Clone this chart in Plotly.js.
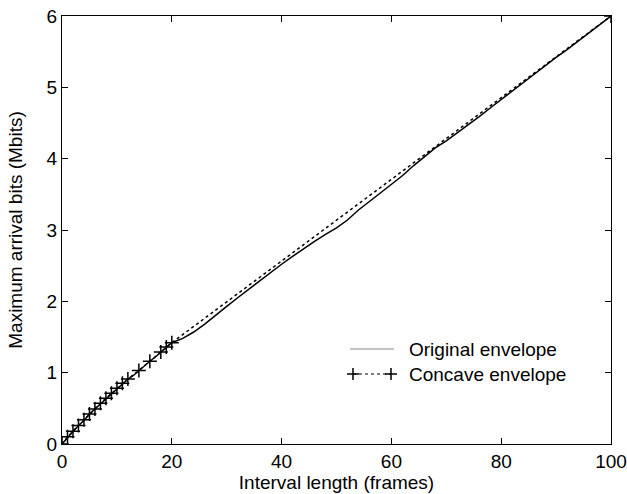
<!DOCTYPE html>
<html>
<head>
<meta charset="utf-8">
<script src="https://cdn.plot.ly/plotly-3.0.1.min.js"></script>
<style>html,body{margin:0;padding:0;background:#fff;}#chart{width:627px;height:494px;}</style>
</head>
<body>
<div id="chart"></div>
<script>
// Original envelope (interval length in frames, max arrival bits in Mbits)
const origX = [0,1,2,3,4,5,6,7,8,9,10,11,12,13,14,15,16,17,18,19,20,
  22,24,26,28,30,32,34,36,38,40,42,44,46,48,50,52,54,56,58,60,62,64,66,68,70,72,74,76,78,80,82,84,86,88,90,92,94,96,98,100];
const origY = [0,0.09,0.18,0.26,0.33,0.42,0.49,0.56,0.64,0.71,0.78,0.84,0.91,0.96,1.03,1.09,1.16,1.22,1.29,1.36,1.42,
  1.48,1.57,1.68,1.81,1.93,2.05,2.17,2.29,2.41,2.52,2.63,2.74,2.84,2.94,3.03,3.14,3.28,3.40,3.52,3.64,3.76,3.90,4.02,4.15,4.25,4.36,4.47,4.59,4.71,4.83,4.95,5.07,5.18,5.30,5.42,5.53,5.65,5.77,5.88,6.0];

// Concave envelope
const concX = [0,1,2,3,4,5,6,7,8,9,10,11,12,14,16,18,19,20,100];
const concY = [0,0.10,0.18,0.26,0.34,0.42,0.49,0.57,0.64,0.71,0.78,0.85,0.91,1.03,1.16,1.29,1.36,1.42,6.0];

const xTicks = [0,20,40,60,80,100];
const yTicks = [0,1,2,3,4,5,6];
const seriesNames = ['Original envelope', 'Concave envelope'];

const traces = [
  {x: origX, y: origY, mode: 'lines', name: seriesNames[0], showlegend: false,
   line: {color: '#000', width: 1.5}},
  {x: concX, y: concY, mode: 'lines+markers', name: seriesNames[1], showlegend: false,
   line: {color: '#000', width: 1.5, dash: 'dot'},
   marker: {symbol: 'cross-thin', size: 10, color: '#000', line: {color: '#000', width: 1.5}}}
];

const F = {family: 'Liberation Sans, Arial, sans-serif', size: 19, color: '#000'};

// Legend drawn in paper coordinates (keys only, not data)
const pxX = p => (p - 62) / 549;
const pxY = p => (444 - p) / 428;
const row1 = 349, row2 = 374;
const cs = 6;
function cross(cx, cy) {
  return [
    {type: 'line', xref: 'paper', yref: 'paper', x0: pxX(cx - cs), x1: pxX(cx + cs), y0: pxY(cy), y1: pxY(cy), line: {color: '#000', width: 1.5}},
    {type: 'line', xref: 'paper', yref: 'paper', x0: pxX(cx), x1: pxX(cx), y0: pxY(cy - cs), y1: pxY(cy + cs), line: {color: '#000', width: 1.5}}
  ];
}
const shapes = [
  {type: 'line', xref: 'paper', yref: 'paper', x0: pxX(350), x1: pxX(394), y0: pxY(row1), y1: pxY(row1), line: {color: '#888', width: 1.2}},
  {type: 'line', xref: 'paper', yref: 'paper', x0: pxX(353), x1: pxX(391), y0: pxY(row2), y1: pxY(row2), line: {color: '#000', width: 1, dash: 'dot'}}
].concat(cross(353, row2), cross(391, row2));

const annotations = [
  {xref: 'paper', yref: 'paper', x: pxX(407), y: pxY(row1), xanchor: 'left', yanchor: 'middle', text: seriesNames[0], showarrow: false, font: F},
  {xref: 'paper', yref: 'paper', x: pxX(407), y: pxY(row2), xanchor: 'left', yanchor: 'middle', text: seriesNames[1], showarrow: false, font: F}
];

const layout = {
  width: 627, height: 494,
  margin: {l: 62, r: 16, t: 16, b: 50},
  paper_bgcolor: '#fff', plot_bgcolor: '#fff',
  font: F,
  showlegend: false,
  shapes: shapes,
  annotations: annotations,
  xaxis: {range: [0, 100], tickvals: xTicks, ticks: 'inside', ticklen: 6, tickcolor: '#000',
    showline: true, linecolor: '#000', linewidth: 1.2, mirror: 'ticks', showgrid: false, zeroline: false,
    tickfont: F,
    title: {text: 'Interval length (frames)', font: F, standoff: 0}},
  yaxis: {range: [0, 6], tickvals: yTicks, ticks: 'inside', ticklen: 6, tickcolor: '#000',
    showline: true, linecolor: '#000', linewidth: 1.2, mirror: 'ticks', showgrid: false, zeroline: false,
    tickfont: F, automargin: false,
    title: {text: 'Maximum arrival bits (Mbits)', font: F, standoff: 18}}
};

Plotly.newPlot('chart', traces, layout, {displayModeBar: false, staticPlot: true});
</script>
</body>
</html>
